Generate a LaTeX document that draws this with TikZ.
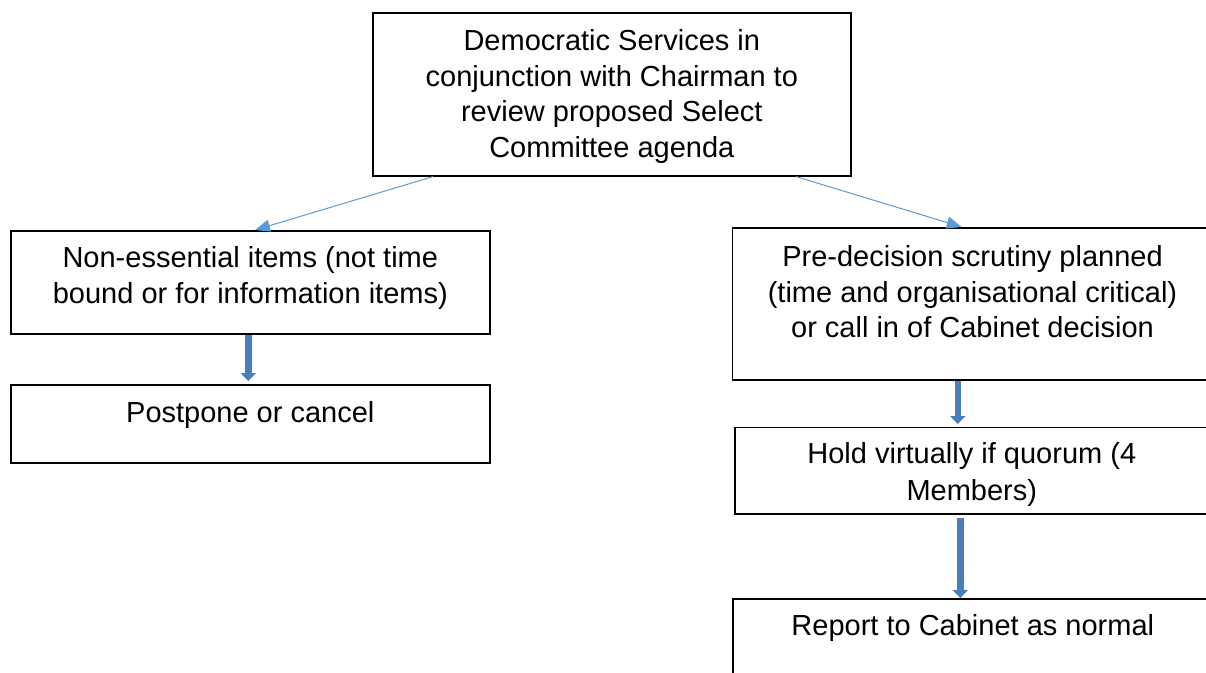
\documentclass[tikz,border=0pt]{standalone}
\usepackage{fontspec}
\setmainfont{Liberation Sans}
\usetikzlibrary{arrows.meta}
\definecolor{conncol}{HTML}{5B9BD5}
\definecolor{blockcol}{HTML}{4A7EBB}
\newcommand{\boxcontent}[4]{\parbox[t][#2pt][t]{#1pt}{\centering\fontsize{29pt}{35.5pt}\selectfont\rule{0pt}{#3pt}#4}}
\begin{document}
\begin{tikzpicture}[x=1pt,y=-1pt,
  box/.style={draw, line width=1.6pt, inner sep=0pt, anchor=north west},
  conn/.style={draw=conncol, line width=1pt, -{Triangle[width=12pt,length=15pt]}},
  blockarrow/.style={draw=blockcol, line width=6.5pt, -{Triangle[width=15pt,length=8pt]}}]
\useasboundingbox (0,0) rectangle (1206,672);
\clip (0,0) rectangle (1206,672);
\node[box] (top) at (372,12) {\boxcontent{478}{163}{38}{Democratic Services in\\conjunction with Chairman to\\review proposed Select\\Committee agenda}};
\node[box] (nonessential) at (10,230) {\boxcontent{479}{103}{36.7}{Non-essential items (not time\\bound or for information items)}};
\node[box] (postpone) at (10,384) {\boxcontent{479}{78}{37.7}{Postpone or cancel}};
\node[box] (predecision) at (731.7,227) {\boxcontent{480}{152}{38.7}{Pre-decision scrutiny planned\\(time and organisational critical)\\or call in of Cabinet decision}};
\node[box] (hold) at (734,426.7) {\parbox[t][86.3pt][t]{474pt}{\centering\fontsize{29pt}{37pt}\selectfont\rule{0pt}{36.3pt}Hold virtually if quorum (4\\Members)}};
\node[box] (report) at (732,598) {\boxcontent{480}{100}{37}{Report to Cabinet as normal}};
\draw[conn] ([xshift=61pt]top.south west) -- ([xshift=245pt]nonessential.north west);
\draw[conn] ([xshift=424pt]top.south west) -- ([xshift=230pt]predecision.north west);
\draw[blockarrow] ([xshift=-2pt]nonessential.south) -- ([xshift=-2pt,yshift=3pt]postpone.north);
\draw[blockarrow] ([xshift=-14.7pt]predecision.south) -- ([xshift=-14pt,yshift=2.7pt]hold.north);
\draw[blockarrow] ([xshift=-11.5pt,yshift=-3pt]hold.south) -- ([xshift=-12.5pt]report.north);
\end{tikzpicture}
\end{document}
